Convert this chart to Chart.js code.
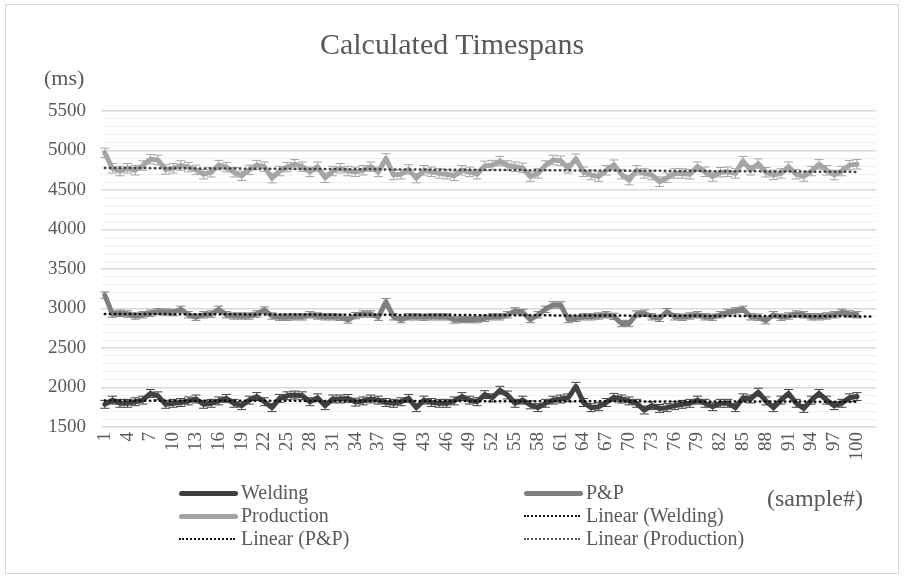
<!DOCTYPE html>
<html>
<head>
<meta charset="utf-8">
<script src="https://cdn.jsdelivr.net/npm/chart.js@4.4.1/dist/chart.umd.min.js"></script>
<style>
  html, body { margin: 0; padding: 0; background: #fff; }
  #wrap { position: relative; width: 904px; height: 576px; overflow: hidden; font-family: "Liberation Serif", "Times New Roman", serif; color: #595959; }
  #chart { position: absolute; left: 0; top: 0; }
  .frame { position: absolute; left: 5px; top: 4px; width: 892px; height: 568px; border: 1px solid #d9d9d9; pointer-events: none; }
  .title { position: absolute; left: 0; width: 904px; top: 27px; text-align: center; font-size: 30px; line-height: 34px; }
  .unit { position: absolute; font-size: 22px; line-height: 24px; }
  .leg { position: absolute; font-size: 20px; line-height: 22px; white-space: nowrap; }
  .sw { position: absolute; height: 0; }
</style>
</head>
<body>
<div id="wrap">
  <canvas id="chart" width="904" height="576"></canvas>
  <div class="frame"></div>
  <div class="title">Calculated Timespans</div>
  <div class="unit" style="left:44px; top:66px;">(ms)</div>
  <div class="unit" style="left:767px; top:485px; font-size:24px; line-height:26px;">(sample#)</div>
  <div id="legend"></div>
</div>
<script>
document.addEventListener("DOMContentLoaded", function () {
    // sample numbers 1..100 (two empty slots at the end, like the original axis)
    const samples = [];
    for (let i = 1; i <= 102; i++) samples.push(String(i));

    const welding = [
        1787, 1840, 1800, 1800, 1820, 1840, 1925, 1895, 1787, 1800,
        1810, 1830, 1855, 1787, 1800, 1830, 1862, 1800, 1770, 1840,
        1885, 1820, 1745, 1862, 1895, 1905, 1895, 1820, 1870, 1770,
        1855, 1855, 1862, 1815, 1830, 1855, 1840, 1810, 1800, 1820,
        1862, 1745, 1840, 1810, 1800, 1800, 1830, 1885, 1840, 1820,
        1910, 1870, 1965, 1905, 1800, 1840, 1780, 1745, 1800, 1840,
        1855, 1870, 2015, 1810, 1745, 1757, 1810, 1875, 1855, 1830,
        1800, 1715, 1770, 1735, 1745, 1770, 1787, 1800, 1840, 1800,
        1757, 1800, 1800, 1745, 1870, 1855, 1940, 1830, 1745, 1840,
        1925, 1800, 1735, 1840, 1925, 1840, 1770, 1800, 1870, 1885
    ];
    const pnp = [
        3170, 2930, 2940, 2930, 2905, 2920, 2940, 2960, 2955, 2950,
        2990, 2920, 2890, 2920, 2930, 2990, 2920, 2905, 2905, 2905,
        2930, 2980, 2905, 2890, 2890, 2895, 2895, 2920, 2905, 2895,
        2895, 2890, 2855, 2910, 2930, 2930, 2890, 3085, 2895, 2860,
        2895, 2895, 2890, 2895, 2895, 2895, 2855, 2860, 2860, 2860,
        2875, 2895, 2895, 2920, 2970, 2950, 2860, 2920, 2990, 3045,
        3045, 2860, 2875, 2895, 2895, 2905, 2920, 2900, 2810, 2810,
        2930, 2940, 2895, 2875, 2960, 2895, 2890, 2905, 2920, 2895,
        2890, 2920, 2950, 2970, 2990, 2895, 2890, 2845, 2920, 2890,
        2905, 2930, 2920, 2895, 2895, 2905, 2920, 2950, 2930, 2920
    ];
    const production = [
        4970, 4775, 4740, 4775, 4750, 4810, 4890, 4880, 4760, 4775,
        4810, 4790, 4755, 4700, 4725, 4815, 4790, 4725, 4680, 4755,
        4815, 4795, 4650, 4740, 4790, 4825, 4795, 4730, 4795, 4655,
        4740, 4775, 4740, 4730, 4750, 4795, 4730, 4900, 4690, 4700,
        4760, 4650, 4750, 4730, 4710, 4700, 4680, 4750, 4730, 4700,
        4805, 4815, 4865, 4810, 4795, 4780, 4670, 4710, 4810, 4880,
        4870, 4775, 4895, 4730, 4690, 4670, 4750, 4820, 4700, 4625,
        4750, 4710, 4690, 4605, 4655, 4710, 4710, 4700, 4795, 4730,
        4670, 4725, 4730, 4710, 4865, 4750, 4835, 4725, 4690, 4710,
        4795, 4700, 4670, 4740, 4825, 4750, 4690, 4740, 4815, 4825
    ];
    // error bar half-lengths (ms)
    const errWelding = 50;
    const errPnp = 40;
    const errProduction = 60;

    const yTicks = [1500, 2000, 2500, 3000, 3500, 4000, 4500, 5000, 5500];

    // least squares line, like the spreadsheet "Linear" trendline
    function linear(values, count) {
        const n = values.length;
        let sx = 0, sy = 0, sxy = 0, sxx = 0;
        for (let i = 0; i < n; i++) {
            sx += i; sy += values[i]; sxy += i * values[i]; sxx += i * i;
        }
        const b = (n * sxy - sx * sy) / (n * sxx - sx * sx);
        const a = (sy - b * sx) / n;
        const out = [];
        for (let i = 0; i < count; i++) out.push(a + b * i);
        return out;
    }

    const errorBars = {
        id: 'errorBars',
        beforeDatasetsDraw(chart) {
            const ctx = chart.ctx;
            const y = chart.scales.y;
            chart.data.datasets.forEach((ds, di) => {
                if (!ds.err) return;
                const meta = chart.getDatasetMeta(di);
                ctx.save();
                ctx.strokeStyle = ds.borderColor;
                ctx.lineWidth = 1;
                meta.data.forEach((pt, i) => {
                    const v = ds.data[i];
                    if (v == null) return;
                    const top = y.getPixelForValue(v + ds.err);
                    const bot = y.getPixelForValue(v - ds.err);
                    ctx.beginPath();
                    ctx.moveTo(pt.x, top); ctx.lineTo(pt.x, bot);
                    ctx.moveTo(pt.x - 4.5, top); ctx.lineTo(pt.x + 4.5, top);
                    ctx.moveTo(pt.x - 4.5, bot); ctx.lineTo(pt.x + 4.5, bot);
                    ctx.stroke();
                });
                ctx.restore();
            });
        }
    };

    const series = (label, data, color, err) => ({
        label: label, data: data, err: err,
        borderColor: color, borderWidth: 5,
        borderJoinStyle: 'round', borderCapStyle: 'round',
        pointRadius: 0, tension: 0, order: 2
    });
    const trend = (label, data, color, width) => ({
        label: label, data: data,
        borderColor: color, borderWidth: width, borderDash: [0.5, 4.5],
        borderCapStyle: 'round',
        pointRadius: 0, tension: 0, order: 1
    });

    const config = {
        type: 'line',
        data: {
            labels: samples,
            datasets: [
                series('Welding', welding, '#404040', errWelding),
                series('P&P', pnp, '#7f7f7f', errPnp),
                series('Production', production, '#a5a5a5', errProduction),
                trend('Linear (Welding)', linear(welding, 100), '#111111', 2.5),
                trend('Linear (P&P)', linear(pnp, 102), '#111111', 2.5),
                trend('Linear (Production)', linear(production, 100), '#404040', 2.5)
            ]
        },
        options: {
            responsive: false,
            animation: false,
            layout: { padding: { left: 0, top: 111, right: 28, bottom: 0 } },
            plugins: { legend: { display: false }, tooltip: { enabled: false } },
            scales: {
                x: {
                    type: 'category',
                    offset: true,
                    grid: { display: false, drawTicks: false },
                    border: { display: false },
                    afterFit: s => { s.height = 149; },
                    ticks: {
                        autoSkip: false, minRotation: 90, maxRotation: 90, padding: 5,
                        color: '#595959',
                        font: { family: 'Liberation Serif', size: 19 },
                        callback: (v, i) => (i % 3 === 0 && i < 100) ? samples[i] : ''
                    }
                },
                y: {
                    min: 1500, max: 5500,
                    afterFit: s => { s.width = 101; },
                    border: { display: false },
                    grid: {
                        drawTicks: false,
                        color: c => yTicks.includes(c.tick.value) ? '#d9d9d9' : '#f0f0f0',
                        lineWidth: c => yTicks.includes(c.tick.value) ? 1.5 : 1
                    },
                    ticks: {
                        stepSize: 100, autoSkip: false, padding: 15,
                        color: '#595959',
                        font: { family: 'Liberation Serif', size: 19 },
                        callback: v => yTicks.includes(v) ? v : ''
                    }
                }
            }
        },
        plugins: [errorBars]
    };

    new Chart(document.getElementById('chart'), config);

    // legend, two columns as in the original
    const legendItems = [
        { text: 'Welding', x: 179, y: 493, color: '#404040', style: 'solid', w: 5 },
        { text: 'P&P', x: 524, y: 493, color: '#7f7f7f', style: 'solid', w: 5 },
        { text: 'Production', x: 179, y: 516, color: '#a5a5a5', style: 'solid', w: 5 },
        { text: 'Linear (Welding)', x: 524, y: 516, color: '#111111', style: 'dotted', w: 2 },
        { text: 'Linear (P&P)', x: 179, y: 539, color: '#111111', style: 'dotted', w: 2 },
        { text: 'Linear (Production)', x: 524, y: 539, color: '#595959', style: 'dotted', w: 2 }
    ];
    const legend = document.getElementById('legend');
    legendItems.forEach(it => {
        const sw = document.createElement('div');
        sw.className = 'sw';
        sw.style.left = it.x + 'px';
        sw.style.top = (it.y - it.w / 2) + 'px';
        sw.style.width = (it.style === 'solid' ? 59 : 56) + 'px';
        sw.style.borderTop = it.w + 'px ' + it.style + ' ' + it.color;
        if (it.style === 'solid') sw.style.borderRadius = '3px';
        legend.appendChild(sw);
        const t = document.createElement('div');
        t.className = 'leg';
        t.style.left = (it.x + 62) + 'px';
        t.style.top = (it.y - 12) + 'px';
        t.textContent = it.text;
        legend.appendChild(t);
    });
});
</script>
</body>
</html>
